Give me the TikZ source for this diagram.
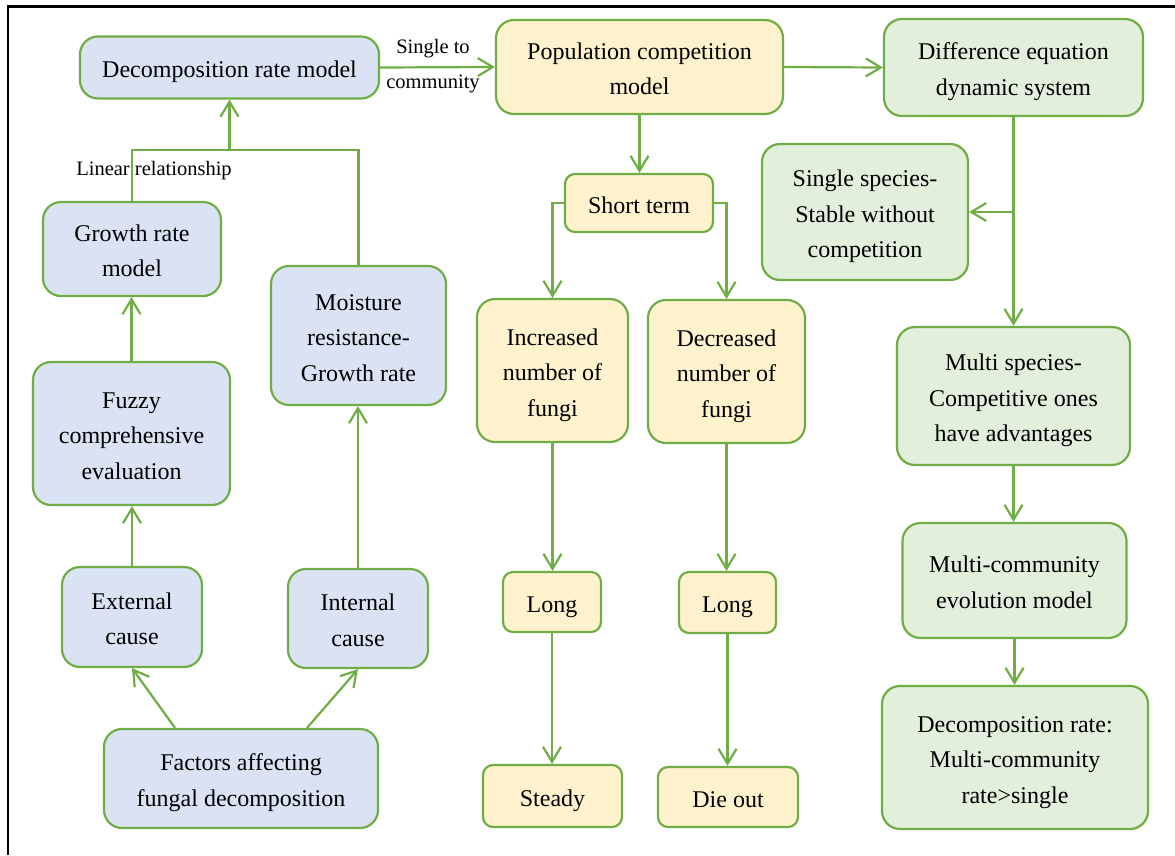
\documentclass[tikz,border=0pt]{standalone}
\usepackage{fontspec}
\setmainfont{Liberation Serif}
\usetikzlibrary{arrows.meta,calc}
\definecolor{bordergreen}{RGB}{112,173,71}
\definecolor{fillblue}{RGB}{218,227,243}
\definecolor{fillyellow}{RGB}{255,242,204}
\definecolor{fillgreen}{RGB}{226,239,218}
\newcommand\bxt[1]{\raisebox{0pt}[\dimexpr\height+6pt\relax][\depth]{\begin{tabular}{@{}c@{}}#1\end{tabular}}}
\tikzset{
  box/.style={draw=bordergreen, line width=2.2pt, rounded corners=18pt,
    inner sep=2pt, font=\fontsize{24}{35.5}\selectfont, text=black},
  bluebox/.style={box, fill=fillblue},
  yellowbox/.style={box, fill=fillyellow},
  greenbox/.style={box, fill=fillgreen},
  smallr/.style={rounded corners=10pt},
  conn/.style={draw=bordergreen, line width=2.2pt},
  arr/.style={conn, -{Straight Barb[length=15pt,width=18pt,line width=2.2pt]}},
  lbl/.style={font=\fontsize{20.5}{24}\selectfont, text=black, inner sep=0pt}
}
\begin{document}
\begin{tikzpicture}[x=1pt,y=-1pt]
\useasboundingbox (0,0) rectangle (1175,855);
% frame
\draw[line width=2.6pt, black] (8,855) -- (8,6.5) -- (1175,6.5);

% left column (blue)
\node[bluebox, minimum width=299pt, minimum height=62pt] (dec) at (229.5,67.5) {\bxt{Decomposition rate model}};
\node[bluebox, minimum width=178pt, minimum height=94pt] (grw) at (132,249) {\bxt{Growth rate\\model}};
\node[bluebox, minimum width=175pt, minimum height=139pt] (moi) at (358.5,335.5) {\bxt{Moisture\\resistance-\\Growth rate}};
\node[bluebox, minimum width=197pt, minimum height=143pt] (fuz) at (131.5,433.5) {\bxt{Fuzzy\\comprehensive\\evaluation}};
\node[bluebox, minimum width=140pt, minimum height=100pt] (ext) at (132,617) {\bxt{External\\cause}};
\node[bluebox, minimum width=140pt, minimum height=99pt] (int) at (358,618.5) {\bxt{Internal\\cause}};
\node[bluebox, minimum width=274pt, minimum height=99pt] (fac) at (241,778.5) {\bxt{Factors affecting\\fungal decomposition}};

% middle column (yellow)
\node[yellowbox, minimum width=287pt, minimum height=94pt] (pop) at (639.5,67) {\bxt{Population competition\\model}};
\node[yellowbox, smallr, minimum width=148pt, minimum height=58pt] (sht) at (639,203) {\bxt{Short term}};
\node[yellowbox, minimum width=151pt, minimum height=143pt] (inc) at (552.5,370.5) {\bxt{Increased\\number of\\fungi}};
\node[yellowbox, minimum width=157pt, minimum height=143pt] (dcr) at (726.5,371.5) {\bxt{Decreased\\number of\\fungi}};
\node[yellowbox, smallr, minimum width=98pt, minimum height=60pt] (lg1) at (552,602) {\bxt{Long}};
\node[yellowbox, smallr, minimum width=97pt, minimum height=61pt] (lg2) at (727.5,602.5) {\bxt{Long}};
\node[yellowbox, smallr, minimum width=139pt, minimum height=62pt] (std) at (552.5,796) {\bxt{Steady}};
\node[yellowbox, smallr, minimum width=140pt, minimum height=60pt] (die) at (728,797) {\bxt{Die out}};

% right column (green)
\node[greenbox, minimum width=259pt, minimum height=97pt] (dif) at (1013.5,67.5) {\bxt{Difference equation\\dynamic system}};
\node[greenbox, minimum width=206pt, minimum height=136pt] (sgl) at (865,212) {\bxt{Single species-\\Stable without\\competition}};
\node[greenbox, minimum width=233pt, minimum height=138pt] (mul) at (1013.5,396) {\bxt{Multi species-\\Competitive ones\\have advantages}};
\node[greenbox, minimum width=224pt, minimum height=115pt] (mcm) at (1014.5,580.5) {\bxt{Multi-community\\evolution model}};
\node[greenbox, minimum width=266pt, minimum height=143pt] (fin) at (1015,757.5) {\bxt{Decomposition rate:\\Multi-community\\rate>single}};

% left connectors
\draw[arr] (fac.north -| 175,0) -- (ext.south);
\draw[arr] (fac.north -| 307,0) -- (int.south);
\draw[arr] (ext.north) -- (ext.north |- fuz.south);
\draw[arr] (fuz.north) -- (fuz.north |- grw.south);
\draw[arr] (int.north) -- (int.north |- moi.south);
\coordinate (j) at (dec.south |- 0,150);
\draw[conn] (grw.north) |- (j) -| (moi.north);
\draw[arr] (j) -- (dec.south);
\node[lbl] (linlbl) at (154,171) {Linear relationship};

% top connectors
\draw[arr] (dec.east) -- (pop.west);
\node[lbl] (s2c1) at (433,49) {Single to};
\node[lbl] (s2c2) at (433,84) {community};
\draw[arr] (pop.east) -- (dif.west);

% middle connectors
\draw[arr] (pop.south) -- (pop.south |- sht.north);
\draw[arr] (sht.west) -| (inc.north);
\draw[arr] (sht.east) -| (dcr.north);
\draw[arr] (inc.south) -- (inc.south |- lg1.north);
\draw[arr] (lg1.south) -- (lg1.south |- std.north);
\draw[arr] (dcr.south) -- (dcr.south |- lg2.north);
\draw[arr] (lg2.south) -- (lg2.south |- die.north);

% right connectors
\draw[arr] (dif.south) -- (dif.south |- mul.north);
\draw[arr] (dif.south |- sgl.east) -- (sgl.east);
\draw[arr] (mul.south) -- (mul.south |- mcm.north);
\draw[arr] (mcm.south) -- (mcm.south |- fin.north);
\end{tikzpicture}
\end{document}
